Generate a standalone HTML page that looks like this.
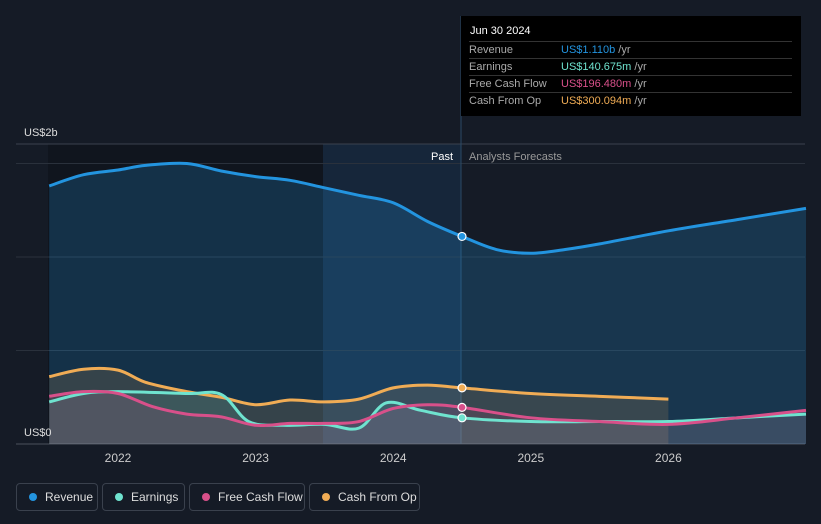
<!DOCTYPE html>
<html><head><meta charset="utf-8"><style>
body{margin:0;background:#151b26;font-family:"Liberation Sans",sans-serif;}
#wrap{position:relative;width:821px;height:524px;overflow:hidden;background:#151b26;}
svg{position:absolute;left:0;top:0}
.tt{position:absolute;left:461px;top:16px;width:340px;height:100px;background:#000;color:#fff;font-size:11px}
.tt .h{position:absolute;left:9px;top:9px;font-size:11px}
.row{position:absolute;left:8px;width:323px;border-top:1px solid #333;height:17px;line-height:17px}
.row span.l{position:absolute;left:0;color:#aaa}
.row span.v{position:absolute;left:92px}
.leg{position:absolute;top:483px;height:28px;border:1px solid #3a414d;border-radius:4px;color:#ddd;font-size:12px;line-height:26px;box-sizing:border-box;padding-left:28px}
.leg i{position:absolute;left:12px;top:9px;width:8px;height:8px;border-radius:50%}
</style></head><body>
<div id="wrap">
<svg id="c" width="821" height="524"></svg>
<div class="tt">
 <div class="h">Jun 30 2024</div>
 <div class="row" style="top:25px"><span class="l">Revenue</span><span class="v"><b style="font-weight:normal;color:#2394df">US$1.110b</b> <span style="color:#aaa">/yr</span></span></div>
 <div class="row" style="top:42px"><span class="l">Earnings</span><span class="v"><b style="font-weight:normal;color:#6fe3cf">US$140.675m</b> <span style="color:#aaa">/yr</span></span></div>
 <div class="row" style="top:59px"><span class="l">Free Cash Flow</span><span class="v"><b style="font-weight:normal;color:#d8508a">US$196.480m</b> <span style="color:#aaa">/yr</span></span></div>
 <div class="row" style="top:76px"><span class="l">Cash From Op</span><span class="v"><b style="font-weight:normal;color:#f0ac55">US$300.094m</b> <span style="color:#aaa">/yr</span></span></div>
</div>
<div class="leg" style="left:16px;width:82px"><i style="background:#2394df"></i>Revenue</div>
<div class="leg" style="left:102px;width:83px"><i style="background:#6fe3cf"></i>Earnings</div>
<div class="leg" style="left:189px;width:116px"><i style="background:#d8508a"></i>Free Cash Flow</div>
<div class="leg" style="left:309px;width:111px"><i style="background:#f0ac55"></i>Cash From Op</div>
</div>
<script>
const revX=[2021.5,2021.75,2022,2022.2,2022.5,2022.75,2023,2023.25,2023.5,2023.75,2024,2024.25,2024.5,2024.75,2025,2025.25,2025.5,2026,2026.5,2027];
const revY=[1.38,1.44,1.465,1.49,1.5,1.46,1.43,1.41,1.37,1.33,1.29,1.19,1.11,1.04,1.02,1.04,1.07,1.14,1.2,1.26];
const cfoX=[2021.5,2021.75,2022,2022.2,2022.5,2022.75,2023,2023.25,2023.5,2023.75,2024,2024.25,2024.5,2025,2025.5,2026];
const cfoY=[0.36,0.4,0.395,0.33,0.28,0.25,0.21,0.235,0.225,0.24,0.3,0.315,0.30,0.27,0.255,0.24];
const earnX=[2021.5,2021.75,2022,2022.5,2022.75,2022.95,2023.2,2023.5,2023.75,2023.95,2024.2,2024.5,2025,2025.5,2026,2026.5,2027];
const earnY=[0.225,0.27,0.28,0.27,0.265,0.12,0.10,0.105,0.085,0.22,0.18,0.14,0.12,0.12,0.12,0.14,0.16];
const fcfX=[2021.5,2021.75,2022,2022.25,2022.5,2022.75,2023,2023.25,2023.5,2023.75,2024,2024.25,2024.5,2025,2025.5,2026,2026.5,2027];
const fcfY=[0.255,0.28,0.27,0.2,0.16,0.145,0.1,0.11,0.11,0.12,0.19,0.21,0.196,0.14,0.12,0.105,0.14,0.18];
const years=[2022,2023,2024,2025,2026];
const grid=[0,0.5,1,1.5];
const NS='http://www.w3.org/2000/svg';
const sx=v=>118+(v-2022)*137.6;
const sy=v=>444-v*187;
const svg=document.getElementById('c');
function mk(t,a,name,inter){const e=document.createElementNS(NS,t);for(const k in a)e.setAttribute(k,a[k]);


svg.appendChild(e);return e;}
function path(xs,ys){const p=xs.map((x,i)=>[sx(x),sy(ys[i])]);let d='M'+p[0];
for(let i=0;i<p.length-1;i++){const a=p[i-1]||p[i],b=p[i],c=p[i+1],e=p[i+2]||c;
d+=` C${b[0]+(c[0]-a[0])/6},${b[1]+(c[1]-a[1])/6} ${c[0]-(e[0]-b[0])/6},${c[1]-(e[1]-b[1])/6} ${c[0]},${c[1]}`;}return d;}
mk('rect',{x:48,y:144,width:275,height:300,fill:'#10151e'},'past-bg',false);
mk('rect',{x:323,y:144,width:138,height:300,fill:'#16263a'},'past-highlight',false);
mk('line',{x1:16,x2:805,y1:144,y2:144,stroke:'#3a414d'},'top-line',false);
grid.forEach(g=>{mk('line',{x1:16,x2:805,y1:sy(g),y2:sy(g),stroke:g?'#2a313c':'#4a515c'},'gridline',false);});
mk('line',{x1:461,x2:461,y1:16,y2:444,stroke:'#2b4a66'},'now-line',false);
const series=[[revX,revY,'#2394df','rgba(35,148,223,0.22)','revenue'],[cfoX,cfoY,'#f0ac55','rgba(240,172,85,0.15)','cash-from-op'],[earnX,earnY,'#6fe3cf','rgba(111,227,207,0.13)','earnings'],[fcfX,fcfY,'#d8508a','rgba(216,80,138,0.13)','free-cash-flow']];
series.forEach(([xs,ys,c,f,n])=>{const d=path(xs,ys);
mk('path',{d:d+` L${sx(xs[xs.length-1])},444 L${sx(xs[0])},444Z`,fill:f},n+'-area',false);});
series.forEach(([xs,ys,c,f,n])=>{mk('path',{d:path(xs,ys),fill:'none',stroke:c,'stroke-width':3},n+'-line',false);
const i=xs.indexOf(2024.5);mk('circle',{cx:sx(2024.5),cy:sy(ys[i]),r:4,fill:c,stroke:'#fff','stroke-width':1.2},n+'-marker',true);});
years.forEach(y=>{const t=mk('text',{x:sx(y),y:462,fill:'#ccc','font-size':12,'text-anchor':'middle'},'x-tick-label',false);t.textContent=y;});
let t=mk('text',{x:24,y:136,fill:'#ddd','font-size':11},'y-label-top',false);t.textContent='US$2b';
t=mk('text',{x:24,y:436,fill:'#ddd','font-size':11},'y-label-zero',false);t.textContent='US$0';
t=mk('text',{x:453,y:160,fill:'#fff','font-size':11,'text-anchor':'end'},'past-label',false);t.textContent='Past';
t=mk('text',{x:469,y:160,fill:'#999','font-size':11},'forecast-label',false);t.textContent='Analysts Forecasts';
</script>
</body></html>
